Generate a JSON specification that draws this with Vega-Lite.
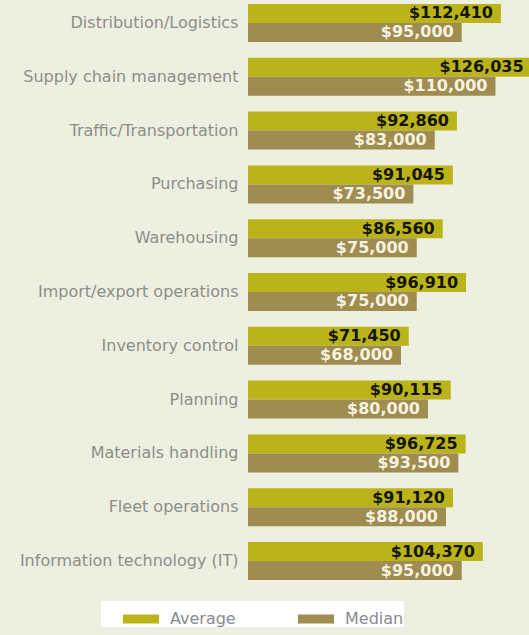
{
  "$schema": "https://vega.github.io/schema/vega-lite/v6.json",
  "width": 281,
  "height": 584,
  "autosize": {"type": "none"},
  "padding": {"left": 248, "top": 0, "right": 0, "bottom": 51},
  "background": "#edefe1",
  "config": {"view": {"stroke": null}},
  "data": {
    "values": [
      {"cat": "Distribution/Logistics", "type": "Average", "value": 112410},
      {"cat": "Distribution/Logistics", "type": "Median", "value": 95000},
      {"cat": "Supply chain management", "type": "Average", "value": 126035},
      {"cat": "Supply chain management", "type": "Median", "value": 110000},
      {"cat": "Traffic/Transportation", "type": "Average", "value": 92860},
      {"cat": "Traffic/Transportation", "type": "Median", "value": 83000},
      {"cat": "Purchasing", "type": "Average", "value": 91045},
      {"cat": "Purchasing", "type": "Median", "value": 73500},
      {"cat": "Warehousing", "type": "Average", "value": 86560},
      {"cat": "Warehousing", "type": "Median", "value": 75000},
      {"cat": "Import/export operations", "type": "Average", "value": 96910},
      {"cat": "Import/export operations", "type": "Median", "value": 75000},
      {"cat": "Inventory control", "type": "Average", "value": 71450},
      {"cat": "Inventory control", "type": "Median", "value": 68000},
      {"cat": "Planning", "type": "Average", "value": 90115},
      {"cat": "Planning", "type": "Median", "value": 80000},
      {"cat": "Materials handling", "type": "Average", "value": 96725},
      {"cat": "Materials handling", "type": "Median", "value": 93500},
      {"cat": "Fleet operations", "type": "Average", "value": 91120},
      {"cat": "Fleet operations", "type": "Median", "value": 88000},
      {"cat": "Information technology (IT)", "type": "Average", "value": 104370},
      {"cat": "Information technology (IT)", "type": "Median", "value": 95000}
    ]
  },
  "encoding": {
    "y": {
      "field": "cat",
      "type": "nominal",
      "sort": null,
      "scale": {"paddingInner": 0.294, "paddingOuter": 0.074},
      "axis": {
        "title": null,
        "domain": false,
        "ticks": false,
        "labelPadding": 10,
        "labelFont": "DejaVu Sans",
        "labelFontSize": 16,
        "labelColor": "#8e8e88",
        "labelLimit": 300
      }
    },
    "yOffset": {
      "field": "type",
      "sort": ["Average", "Median"],
      "scale": {"paddingInner": 0, "paddingOuter": 0}
    },
    "x": {
      "field": "value",
      "type": "quantitative",
      "scale": {"domain": [0, 124900]},
      "axis": null
    }
  },
  "layer": [
    {
      "mark": {"type": "bar", "clip": false},
      "encoding": {
        "color": {
          "field": "type",
          "type": "nominal",
          "scale": {"domain": ["Average", "Median"], "range": ["#bab41a", "#9e8c50"]},
          "legend": {
            "title": " ",
            "titleOrient": "left",
            "titlePadding": 22,
            "titleFontSize": 6,
            "orient": "none",
            "legendX": -147,
            "legendY": 601,
            "direction": "horizontal",
            "fillColor": "white",
            "padding": 0,
            "symbolType": "M-1,-0.25H1V0.25H-1Z",
            "symbolSize": 1296,
            "symbolStrokeWidth": 0,
            "symbolOpacity": 1,
            "labelFont": "DejaVu Sans",
            "labelFontSize": 16,
            "labelColor": "#8a8a92",
            "labelOffset": 11,
            "columnPadding": 62
          }
        }
      }
    },
    {
      "mark": {
        "type": "text",
        "align": "right",
        "baseline": "middle",
        "dx": -8,
        "font": "DejaVu Sans",
        "fontWeight": "bold",
        "fontSize": 16
      },
      "encoding": {
        "text": {"field": "value", "type": "quantitative", "format": "$,.0f"},
        "color": {
          "condition": {"test": "datum.type === 'Average'", "value": "#141400"},
          "value": "#f7f3e0"
        }
      }
    }
  ]
}
